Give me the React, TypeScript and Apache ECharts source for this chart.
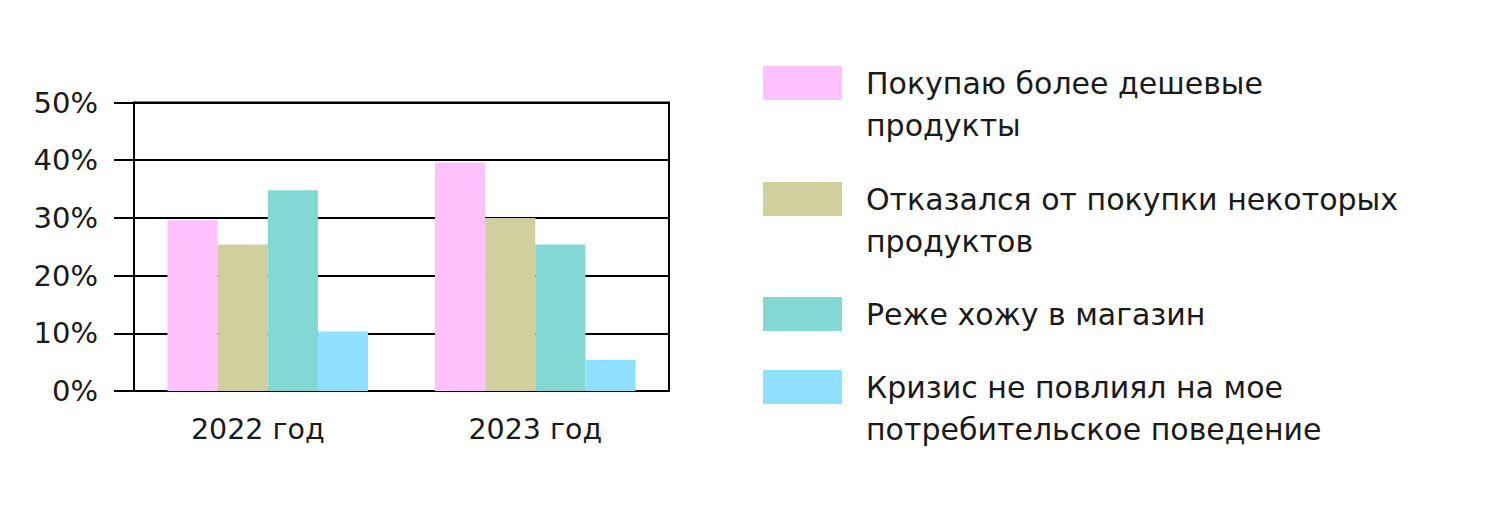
import React, { useEffect, useRef } from "react";
import * as echarts from "echarts";

const categories = ["2022 год", "2023 год"];
const seriesNames = [
  "Покупаю более дешевые\nпродукты",
  "Отказался от покупки некоторых\nпродуктов",
  "Реже хожу в магазин",
  "Кризис не повлиял на мое\nпотребительское поведение",
];
const cheaper = [29.6, 39.6];
const refused = [25.4, 30.0];
const lessOften = [34.8, 25.4];
const noEffect = [10.3, 5.4];
const seriesValues = [cheaper, refused, lessOften, noEffect];
const colors = ["#FEC1FB", "#CFD09E", "#84D8D4", "#8FDFFE"];
const yTicks = [0, 10, 20, 30, 40, 50];
// top edge of each legend swatch
const legendSwatchTops = [66, 182, 297, 370];

const FONT = "'DejaVu Sans', 'Open Sans', sans-serif";
const TEXT = "#1a1a1a";
const LEGEND_LINE = 42;
const SWATCH_H = 34;
const TEXT_PAD_BOTTOM = 6;

export default function App() {
  const ref = useRef<HTMLDivElement>(null);
  useEffect(() => {
    if (!ref.current) return;
    const chart = echarts.init(ref.current, undefined, { renderer: "svg" });
    const legends = seriesNames.map((name, i) => {
      const multi = name.indexOf("\n") >= 0;
      // text block is centred on the swatch; a leading blank line puts the first line at the swatch centre
      const lines = multi ? 3 : 1;
      const offset = (lines * LEGEND_LINE + TEXT_PAD_BOTTOM) / 2 - SWATCH_H / 2;
      return {
        orient: "vertical",
        left: 763,
        top: legendSwatchTops[i] - offset,
        padding: 0,
        itemWidth: 79,
        itemHeight: SWATCH_H,
        icon: "rect",
        selectedMode: false,
        formatter: (n: string) => (n.indexOf("\n") >= 0 ? "\n" + n : n),
        textStyle: {
          fontFamily: FONT,
          fontSize: 30,
          lineHeight: LEGEND_LINE,
          color: TEXT,
          padding: [0, 0, TEXT_PAD_BOTTOM, 19],
        },
        data: [name],
      };
    });
    chart.setOption({
      animation: false,
      backgroundColor: "#ffffff",
      textStyle: { fontFamily: FONT },
      grid: {
        left: 134,
        right: 831,
        top: 102.5,
        bottom: 116,
        show: true,
        borderColor: "#000",
        borderWidth: 2,
        backgroundColor: "transparent",
      },
      legend: legends,
      xAxis: [
        {
          type: "category",
          data: categories,
          axisLine: { lineStyle: { color: "#000", width: 2 } },
          axisTick: { length: 12, lineStyle: { color: "#000", width: 2 } },
          axisLabel: {
            fontFamily: FONT,
            fontSize: 28.5,
            color: TEXT,
            margin: 24,
            formatter: (v: string, idx: number) => (idx === 0 ? "{a|" + v + "}" : "{b|" + v + "}"),
            rich: {
              a: { fontFamily: FONT, fontSize: 28.5, color: TEXT, padding: [0, 20, 0, 0] },
              b: { fontFamily: FONT, fontSize: 28.5, color: TEXT },
            },
          },
        },
        {
          type: "category",
          data: categories,
          position: "bottom",
          axisLine: { show: false },
          axisTick: { inside: true, length: 6, lineStyle: { color: "#000", width: 2 } },
          axisLabel: { show: false },
          splitLine: { show: false },
        },
      ],
      yAxis: {
        type: "value",
        min: yTicks[0],
        max: yTicks[yTicks.length - 1],
        interval: 10,
        axisLine: { show: true, lineStyle: { color: "#000", width: 2 } },
        axisTick: { show: true, length: 20, lineStyle: { color: "#000", width: 2 } },
        splitLine: { show: true, lineStyle: { color: "#000", width: 2 } },
        axisLabel: {
          fontFamily: FONT,
          fontSize: 29,
          color: TEXT,
          margin: 36,
          formatter: "{value}%",
        },
      },
      series: seriesNames.map((name, i) => ({
        name,
        type: "bar",
        data: seriesValues[i],
        barGap: "0%",
        barCategoryGap: "25%",
        itemStyle: { color: colors[i] },
      })),
    });
    return () => chart.dispose();
  }, []);
  return (
    <div
      ref={ref}
      style={{ position: "fixed", left: 0, top: 0, width: 1500, height: 507, background: "#fff" }}
    />
  );
}
